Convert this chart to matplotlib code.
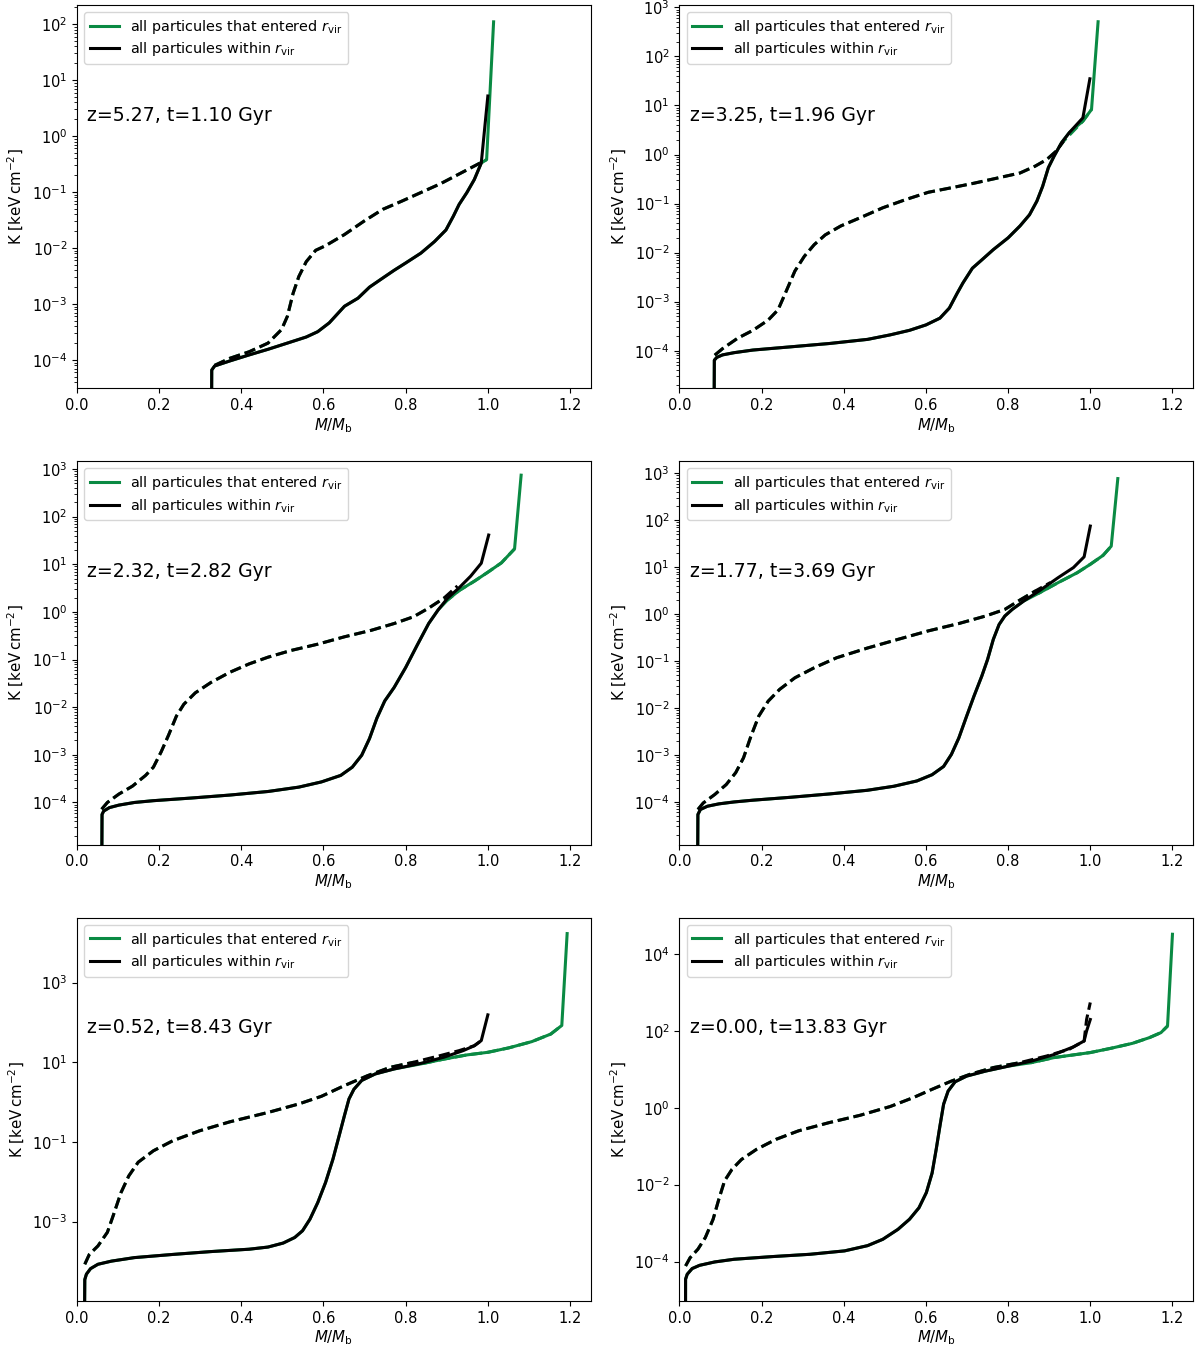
import numpy as np
import matplotlib
matplotlib.use("Agg")
import matplotlib.pyplot as plt
from matplotlib.ticker import NullLocator

# 색상
GREEN = '#0a8a43'

# 패널 제목 (z, t)
labels = ['z=5.27, t=1.10 Gyr', 'z=3.25, t=1.96 Gyr', 'z=2.32, t=2.82 Gyr',
          'z=1.77, t=3.69 Gyr', 'z=0.52, t=8.43 Gyr', 'z=0.00, t=13.83 Gyr']

# ---- z=5.27 ----
p1_blk_x = [0.327, 0.328, 0.335, 0.372, 0.419, 0.465, 0.512, 0.558, 0.586, 0.614, 0.651, 0.684,
            0.712, 0.744, 0.772, 0.80, 0.837, 0.87, 0.898, 0.916, 0.93, 0.949, 0.967, 0.984, 1.0]
p1_blk_y = [1e-6, 6.6e-5, 7.8e-5, 9.6e-5, 1.23e-4, 1.55e-4, 2.0e-4, 2.57e-4, 3.2e-4, 4.6e-4,
            9.1e-4, 1.27e-3, 2.0e-3, 2.9e-3, 4.0e-3, 5.4e-3, 8.1e-3, 1.3e-2, 2.1e-2, 3.7e-2,
            6.0e-2, 9.8e-2, 0.167, 0.33, 5.2]
p1_grn_x = [0.997, 1.014]
p1_grn_y = [0.38, 110]
p1_dash_x = [0.335, 0.372, 0.419, 0.465, 0.498, 0.512, 0.526, 0.54, 0.558, 0.581, 0.605, 0.651,
             0.698, 0.744, 0.791, 0.837, 0.884, 0.93, 0.981]
p1_dash_y = [8e-5, 1.07e-4, 1.4e-4, 2.0e-4, 3.5e-4, 6.0e-4, 1.55e-3, 3.1e-3, 5.7e-3, 9.1e-3,
             1.1e-2, 1.74e-2, 3.0e-2, 4.9e-2, 6.9e-2, 9.8e-2, 0.14, 0.21, 0.33]

# ---- z=3.25 ----
p2_blk_x = [0.084, 0.085, 0.091, 0.105, 0.133, 0.179, 0.272, 0.365, 0.458, 0.513, 0.56, 0.6,
            0.634, 0.657, 0.676, 0.69, 0.713, 0.736, 0.764, 0.80, 0.829, 0.852, 0.87, 0.884,
            0.898, 0.912, 0.93, 0.949, 0.982, 0.999]
p2_blk_y = [1e-6, 6.4e-5, 7.3e-5, 8.2e-5, 9.1e-5, 1.03e-4, 1.2e-4, 1.4e-4, 1.7e-4, 2.1e-4, 2.6e-4,
            3.35e-4, 4.6e-4, 7.4e-4, 1.48e-3, 2.4e-3, 4.8e-3, 7.1e-3, 1.15e-2, 2.0e-2, 3.5e-2,
            5.9e-2, 0.112, 0.224, 0.54, 0.93, 1.74, 2.8, 5.6, 35]
p2_grn_x = [0.982, 1.003, 1.019]
p2_grn_y = [4.8, 8.3, 510]
p2_dash_x = [0.086, 0.105, 0.142, 0.179, 0.216, 0.24, 0.258, 0.281, 0.304, 0.328, 0.355, 0.393,
             0.439, 0.495, 0.55, 0.606, 0.662, 0.717, 0.773, 0.829, 0.866, 0.894, 0.917, 0.935]
p2_dash_y = [8.1e-5, 1.1e-4, 1.8e-4, 2.6e-4, 4.2e-4, 6.8e-4, 1.5e-3, 4.2e-3, 8.4e-3, 1.45e-2,
             2.3e-2, 3.5e-2, 5.1e-2, 8.2e-2, 0.12, 0.17, 0.21, 0.26, 0.33, 0.42, 0.58, 0.79,
             1.17, 1.87]

# ---- z=2.32 ----
p3_blk_x = [0.060, 0.061, 0.065, 0.079, 0.102, 0.14, 0.186, 0.279, 0.372, 0.465, 0.54, 0.595,
            0.642, 0.67, 0.693, 0.712, 0.73, 0.749, 0.772, 0.80, 0.828, 0.856, 0.879, 0.902,
            0.93, 0.958, 0.984, 1.002]
p3_blk_y = [1e-6, 5.6e-5, 6.6e-5, 7.8e-5, 8.8e-5, 1.0e-4, 1.09e-4, 1.24e-4, 1.43e-4, 1.7e-4,
            2.1e-4, 2.7e-4, 3.7e-4, 5.5e-4, 9.8e-4, 2.2e-3, 5.9e-3, 1.35e-2, 2.6e-2, 6.8e-2, 0.2,
            0.57, 1.1, 1.94, 3.2, 5.6, 10.5, 41]
p3_grn_x = [0.902, 0.93, 0.967, 1.0, 1.033, 1.065, 1.081]
p3_grn_y = [1.78, 2.8, 4.4, 6.8, 10.7, 21, 740]
p3_dash_x = [0.06, 0.074, 0.102, 0.135, 0.167, 0.186, 0.205, 0.223, 0.242, 0.26, 0.288, 0.326,
             0.372, 0.419, 0.465, 0.521, 0.586, 0.651, 0.716, 0.772, 0.819, 0.856, 0.893, 0.926]
p3_dash_y = [7.2e-5, 1e-4, 1.5e-4, 2.2e-4, 3.7e-4, 5.5e-4, 1.16e-3, 2.6e-3, 6.5e-3, 1.15e-2,
             2.0e-2, 3.3e-2, 5.4e-2, 8.1e-2, 0.112, 0.155, 0.21, 0.3, 0.41, 0.57, 0.79, 1.2,
             1.94, 3.5]

# ---- z=1.77 ----
p4_blk_x = [0.044, 0.045, 0.051, 0.068, 0.096, 0.133, 0.179, 0.272, 0.365, 0.457, 0.522, 0.578,
            0.615, 0.643, 0.662, 0.68, 0.699, 0.717, 0.736, 0.75, 0.764, 0.778, 0.792, 0.81,
            0.838, 0.875, 0.922, 0.959, 0.985, 1.0]
p4_blk_y = [1e-6, 5.4e-5, 6.9e-5, 8.1e-5, 9.1e-5, 1.0e-4, 1.09e-4, 1.26e-4, 1.48e-4, 1.77e-4,
            2.16e-4, 2.8e-4, 3.8e-4, 5.7e-4, 1.03e-3, 2.3e-3, 6.7e-3, 1.8e-2, 4.8e-2, 0.108,
            0.29, 0.6, 0.91, 1.26, 1.9, 3.1, 6.0, 9.8, 16.6, 75]
p4_grn_x = [0.875, 0.922, 0.968, 1.0, 1.031, 1.051, 1.067]
p4_grn_y = [2.8, 4.7, 7.6, 11.5, 17.8, 28, 770]
p4_dash_x = [0.045, 0.058, 0.086, 0.114, 0.137, 0.156, 0.174, 0.193, 0.216, 0.244, 0.281, 0.328,
             0.383, 0.458, 0.532, 0.606, 0.68, 0.745, 0.792, 0.829, 0.866, 0.903]
p4_dash_y = [6.9e-5, 9.5e-5, 1.44e-4, 2.35e-4, 4.2e-4, 8.7e-4, 2.5e-3, 6.7e-3, 1.4e-2, 2.5e-2,
             4.4e-2, 7.2e-2, 0.118, 0.19, 0.29, 0.44, 0.63, 0.91, 1.26, 2.0, 3.1, 4.7]

# ---- z=0.52 ----
p5_blk_x = [0.018, 0.019, 0.023, 0.033, 0.051, 0.084, 0.14, 0.233, 0.326, 0.419, 0.465, 0.502,
            0.53, 0.549, 0.567, 0.586, 0.605, 0.623, 0.637, 0.651, 0.662, 0.674, 0.693, 0.726,
            0.772, 0.837, 0.893, 0.94, 0.967, 0.984, 1.0]
p5_blk_y = [1e-6, 3.5e-5, 4.8e-5, 6.6e-5, 8.5e-5, 1.02e-4, 1.25e-4, 1.5e-4, 1.77e-4, 2.03e-4,
            2.3e-4, 2.9e-4, 4.0e-4, 5.9e-4, 1.15e-3, 3.0e-3, 9.6e-3, 3.7e-2, 0.13, 0.46, 1.2,
            2.1, 3.5, 5.1, 6.8, 9.4, 13.4, 19.6, 26, 35, 155]
p5_grn_x = [0.837, 0.893, 0.949, 1.0, 1.051, 1.107, 1.153, 1.18, 1.193]
p5_grn_y = [9.1, 12, 15.3, 17.8, 23, 33, 51, 84, 1.7e4]
p5_dash_x = [0.019, 0.03, 0.051, 0.074, 0.088, 0.107, 0.126, 0.149, 0.186, 0.233, 0.298, 0.372,
             0.465, 0.54, 0.595, 0.651, 0.707, 0.763, 0.819, 0.884, 0.93, 0.967, 0.984]
p5_dash_y = [8.5e-5, 1.5e-4, 2.45e-4, 5.4e-4, 1.4e-3, 5.3e-3, 1.4e-2, 3.1e-2, 6.0e-2, 0.107,
             0.19, 0.32, 0.55, 0.9, 1.4, 2.6, 4.6, 7.5, 10, 14.7, 19.6, 26, 35]

# ---- z=0.00 ----
p6_blk_x = [0.0148, 0.015, 0.019, 0.031, 0.049, 0.086, 0.133, 0.226, 0.318, 0.402, 0.458, 0.495,
            0.532, 0.56, 0.583, 0.601, 0.615, 0.625, 0.634, 0.643, 0.654, 0.671, 0.699, 0.745,
            0.801, 0.857, 0.912, 0.959, 0.985, 0.991, 1.0]
p6_blk_y = [1e-6, 3.5e-5, 4.7e-5, 6.6e-5, 8.0e-5, 9.8e-5, 1.15e-4, 1.35e-4, 1.55e-4, 1.9e-4,
            2.6e-4, 3.8e-4, 6.9e-4, 1.26e-3, 2.5e-3, 6.2e-3, 2.0e-2, 8.3e-2, 0.33, 1.23, 2.7,
            4.7, 6.6, 8.9, 12, 16.2, 24, 38, 54, 98, 195]
p6_grn_x = [0.857, 0.912, 1.0, 1.051, 1.103, 1.144, 1.172, 1.188, 1.2]
p6_grn_y = [14.8, 20, 27, 35, 47, 66, 89, 132, 3.2e4]
p6_dash_x = [0.015, 0.026, 0.045, 0.063, 0.082, 0.096, 0.11, 0.128, 0.151, 0.188, 0.235, 0.29,
             0.365, 0.439, 0.513, 0.569, 0.615, 0.662, 0.708, 0.764, 0.829, 0.894, 0.949, 0.985,
             0.991, 1.0]
p6_dash_y = [7.7e-5, 1.26e-4, 2.1e-4, 4.2e-4, 1.26e-3, 4.2e-3, 1.26e-2, 2.5e-2, 4.5e-2, 8.3e-2,
             0.15, 0.25, 0.41, 0.63, 1.07, 1.82, 3.0, 4.9, 7.4, 11, 14.8, 22, 33, 54, 195, 540]

# y 범위
ylims = [(3.1e-5, 220), (1.7e-5, 1.12e3), (1.3e-5, 1.45e3),
         (1.23e-5, 1.8e3), (1.02e-5, 4.3e4), (9.5e-6, 8.7e4)]
# 아래 줄은 두 자리마다 눈금
yticks = [None, None, None, None,
          [1e-3, 1e-1, 1e1, 1e3],
          [1e-4, 1e-2, 1e0, 1e2, 1e4]]

panels = [
    (p1_blk_x, p1_blk_y, p1_grn_x, p1_grn_y, p1_dash_x, p1_dash_y),
    (p2_blk_x, p2_blk_y, p2_grn_x, p2_grn_y, p2_dash_x, p2_dash_y),
    (p3_blk_x, p3_blk_y, p3_grn_x, p3_grn_y, p3_dash_x, p3_dash_y),
    (p4_blk_x, p4_blk_y, p4_grn_x, p4_grn_y, p4_dash_x, p4_dash_y),
    (p5_blk_x, p5_blk_y, p5_grn_x, p5_grn_y, p5_dash_x, p5_dash_y),
    (p6_blk_x, p6_blk_y, p6_grn_x, p6_grn_y, p6_dash_x, p6_dash_y),
]

plt.rcParams['xtick.labelsize'] = 10.5
plt.rcParams['ytick.labelsize'] = 10.5
plt.rcParams['axes.labelsize'] = 10.8

fig, axes = plt.subplots(3, 2, figsize=(11.99, 13.48), dpi=100)
plt.subplots_adjust(left=0.0642, right=0.995, top=0.9963, bottom=0.0349, wspace=0.173, hspace=0.19)

for ax, (bx, by, gx, gy, dx, dy), lab, yl, yt in zip(axes.flat, panels, labels, ylims, yticks):
    bx, by, gx, gy = np.array(bx), np.array(by), np.array(gx), np.array(gy)
    dx, dy = np.array(dx), np.array(dy)
    # 초록선 = 검은선 앞부분 + 뒷부분
    m = bx < gx[0]
    gfx = np.concatenate([bx[m], gx])
    gfy = np.concatenate([by[m], gy])
    # 초록 점선 = 점선 + 초록선 꼬리
    md = dx < gx[0]
    gdx = np.concatenate([dx[md], gx[:-1]])
    gdy = np.concatenate([dy[md], gy[:-1]])

    ax.plot(gfx, gfy, color=GREEN, lw=2.2, label=r'all particules that entered $r_{\rm vir}$')
    ax.plot(gdx, gdy, color=GREEN, lw=2.2, ls='--')
    ax.plot(bx, by, color='black', lw=2.2, label=r'all particules within $r_{\rm vir}$')
    ax.plot(dx, dy, color='black', lw=2.2, ls='--')

    ax.set_yscale('log')
    ax.set_xlim(0, 1.25)
    ax.set_ylim(*yl)
    if yt is not None:
        ax.set_yticks(yt)
        ax.yaxis.set_minor_locator(NullLocator())
    ax.set_xlabel(r'$M/M_{\rm b}$', labelpad=2)
    ax.set_ylabel(r'K [keV$\,$cm$^{-2}$]')
    ax.text(0.02, 0.713, lab, transform=ax.transAxes, fontsize=13.6, va='center')
    ax.legend(loc='upper left', fontsize=10.4, labelspacing=0.3)

plt.savefig('out.png', dpi=100)
